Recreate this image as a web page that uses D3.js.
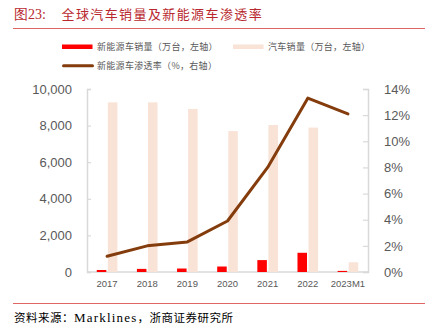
<!DOCTYPE html>
<html>
<head>
<meta charset="utf-8">
<script src="https://cdn.jsdelivr.net/npm/d3@7/dist/d3.min.js"></script>
<style>
  html, body { margin: 0; padding: 0; background: #fff; }
  svg { display: block; }
</style>
</head>
<body>
<svg id="chart" width="425" height="328"></svg>
<script>
// Categories and series
const years = ["2017", "2018", "2019", "2020", "2021", "2022", "2023M1"];
const nevSales = [110, 170, 190, 300, 650, 1050, 60];          // 新能源车销量（万台）
const carSales = [9270, 9270, 8910, 7700, 8030, 7890, 530];    // 汽车销量（万台）
const nevShare = [1.2, 2.0, 2.3, 3.9, 8.0, 13.3, 12.1];         // 新能源车渗透率（%）
const leftTicks = [0, 2000, 4000, 6000, 8000, 10000];
const rightTicks = [0, 2, 4, 6, 8, 10, 12, 14];

const svg = d3.select("#chart");
const cjk = "'Noto Sans CJK SC', 'Noto Sans', sans-serif";
const latin = "'Liberation Sans', Arial, sans-serif";

const plot = { left: 87, right: 368, top: 89, bottom: 272 };

const x = d3.scaleBand().domain(years).range([plot.left, plot.right]).padding(0);
const sub = d3.scaleBand().domain(["nev", "car"]).range([-10.3, 10.3]).paddingInner(0.14);
const yL = d3.scaleLinear().domain([0, 10000]).range([plot.bottom, plot.top]);
const yR = d3.scaleLinear().domain([0, 14]).range([plot.bottom, plot.top]);

// Title
const title = svg.append("text").attr("x", 14).attr("y", 19)
  .attr("fill", "#B8282E").attr("font-size", 13);
title.append("tspan").attr("font-family", "'Liberation Serif', serif").attr("font-size", 14).text("图23:");
title.append("tspan").attr("x", 61.5).attr("font-family", cjk).attr("letter-spacing", 1.4)
  .text("全球汽车销量及新能源车渗透率");
svg.append("line").attr("x1", 13).attr("x2", 425).attr("y1", 28.5).attr("y2", 28.5)
  .attr("stroke", "#E06666").attr("stroke-width", 1);

// Legend
const legend = svg.append("g").attr("font-family", cjk).attr("font-size", 9)
  .attr("fill", "#595959").attr("letter-spacing", 0.3);
legend.append("rect").attr("x", 62).attr("y", 44.5).attr("width", 30.5).attr("height", 4.5).attr("fill", "#FF0000");
legend.append("text").attr("x", 97).attr("y", 50).text("新能源车销量（万台，左轴）");
legend.append("rect").attr("x", 233).attr("y", 44.5).attr("width", 30.5).attr("height", 4.5).attr("fill", "#F9E2D6");
legend.append("text").attr("x", 268).attr("y", 50).text("汽车销量（万台，左轴）");
legend.append("line").attr("x1", 63.5).attr("x2", 92.5).attr("y1", 65.7).attr("y2", 65.7)
  .attr("stroke", "#843C0C").attr("stroke-width", 3).attr("stroke-linecap", "round");
legend.append("text").attr("x", 97).attr("y", 69).text("新能源车渗透率（%，右轴）");

// Axes
const axisColor = "#D9D9D9";
const gL = svg.append("g").attr("transform", `translate(${plot.left},0)`)
  .call(d3.axisLeft(yL).tickValues(leftTicks).tickSize(-4).tickPadding(15)
    .tickFormat(d3.format(",")));
const gR = svg.append("g").attr("transform", `translate(${plot.right},0)`)
  .call(d3.axisRight(yR).tickValues(rightTicks).tickSize(-5).tickPadding(16)
    .tickFormat(d => d + "%"));
const gX = svg.append("g").attr("transform", `translate(0,${plot.bottom})`)
  .call(d3.axisBottom(x).tickSize(0).tickPadding(8));

[gL, gR, gX].forEach(g => {
  g.select(".domain").attr("stroke", axisColor).attr("stroke-width", 1.5);
  g.selectAll(".tick line").attr("stroke", axisColor).attr("stroke-width", 1.2);
  g.selectAll("text").attr("fill", "#595959").attr("font-family", latin);
});
gL.selectAll("text").attr("font-size", 13);
gR.selectAll("text").attr("font-size", 13).attr("text-anchor", "start");
gX.selectAll("text").attr("font-size", 9.5);
gX.select(".domain").attr("d", `M${plot.left},0H${plot.right}`);

// Bars
const bars = svg.append("g");
bars.selectAll("rect.car").data(years).join("rect").attr("class", "car")
  .attr("x", d => x(d) + x.bandwidth() / 2 + sub("car"))
  .attr("width", sub.bandwidth())
  .attr("y", (d, i) => yL(carSales[i]))
  .attr("height", (d, i) => yL(0) - yL(carSales[i]))
  .attr("fill", "#F9E2D6");
bars.selectAll("rect.nev").data(years).join("rect").attr("class", "nev")
  .attr("x", d => x(d) + x.bandwidth() / 2 + sub("nev"))
  .attr("width", sub.bandwidth())
  .attr("y", (d, i) => yL(nevSales[i]))
  .attr("height", (d, i) => yL(0) - yL(nevSales[i]))
  .attr("fill", "#FF0000");

// Penetration line
const line = d3.line()
  .x((d, i) => x(years[i]) + x.bandwidth() / 2)
  .y(d => yR(d));
svg.append("path").datum(nevShare).attr("d", line)
  .attr("fill", "none").attr("stroke", "#843C0C").attr("stroke-width", 3)
  .attr("stroke-linejoin", "round").attr("stroke-linecap", "round");

// Source note
svg.append("line").attr("x1", 13).attr("x2", 425).attr("y1", 303.5).attr("y2", 303.5)
  .attr("stroke", "#E06666").attr("stroke-width", 1);
const src = svg.append("text").attr("x", 14).attr("y", 322).attr("fill", "#000").attr("font-size", 11.5);
src.append("tspan").attr("font-family", cjk).attr("letter-spacing", 0.5).text("资料来源：");
src.append("tspan").attr("font-family", "'Liberation Serif', serif").attr("font-size", 13)
  .attr("letter-spacing", 1.2).text("Marklines");
src.append("tspan").attr("font-family", cjk).attr("letter-spacing", 0.5).text("，浙商证券研究所");
</script>
</body>
</html>
